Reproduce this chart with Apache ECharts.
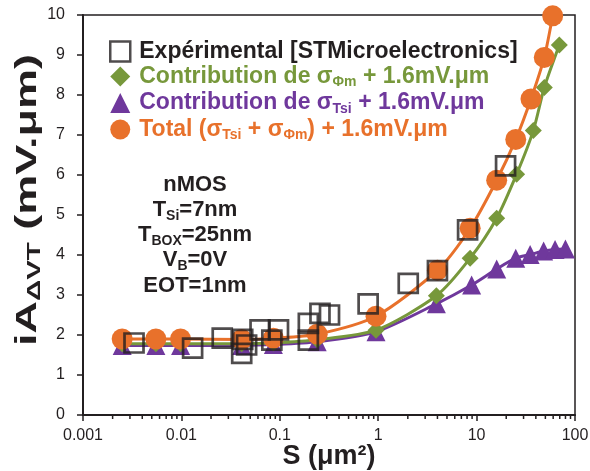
<!DOCTYPE html>
<html><head><meta charset="utf-8">
<script src="https://cdn.jsdelivr.net/npm/echarts@6/dist/echarts.min.js"></script>
<style>html,body{margin:0;padding:0;background:#fff;overflow:hidden}#c{width:590px;height:471px}</style>
</head><body><div id="c"></div>
<script>
// ---- data ----
const expS = [0.0033, 0.013, 0.026, 0.041, 0.042, 0.046, 0.063, 0.083, 0.097, 0.195, 0.195, 0.256, 0.32, 0.79, 2.02, 4.0, 8.1, 19.7];
const expV = [1.80, 1.67, 1.92, 1.54, 1.89, 1.75, 2.13, 1.87, 2.13, 1.87, 2.29, 2.54, 2.50, 2.78, 3.29, 3.61, 4.63, 6.23];

const phiS = [0.0025, 0.0055, 0.0098, 0.041, 0.086, 0.24, 0.95, 3.9, 8.6, 16, 25.5, 37.7, 48.8, 69.3];
const phiV = [1.78, 1.78, 1.78, 1.78, 1.80, 1.88, 2.12, 2.98, 3.92, 4.92, 6.02, 7.11, 8.19, 9.25];

const tsiS = [0.0025, 0.0055, 0.0098, 0.041, 0.086, 0.24, 0.95, 3.9, 8.9, 16, 25, 35, 48, 62.7, 80];
const tsiV = [1.74, 1.74, 1.74, 1.74, 1.76, 1.83, 2.08, 2.78, 3.25, 3.65, 3.92, 4.01, 4.10, 4.14, 4.15];

const totS = [0.0025, 0.0055, 0.0098, 0.041, 0.086, 0.24, 0.95, 4.0, 8.6, 16, 25, 35.7, 48.7, 59.3];
const totV = [1.90, 1.90, 1.90, 1.89, 1.92, 2.02, 2.47, 3.62, 4.67, 5.87, 6.89, 7.90, 8.94, 9.98];

const xTickLabels = ['0.001', '0.01', '0.1', '1', '10', '100'];
const minorTickValues = [];
[0.001, 0.01, 0.1, 1, 10].forEach(d => { for (let k = 2; k <= 9; k++) minorTickValues.push(d * k); });

const legendText = {
  exp: '{b|Expérimental [STMicroelectronics]}',
  phi: '{b|Contribution de σ}{s|Φm}{b| + 1.6mV.μm}',
  tsi: '{b|Contribution de σ}{s|Tsi}{b| + 1.6mV.μm}',
  tot: '{b|Total (σ}{s|Tsi}{b| + σ}{s|Φm}{b|) + 1.6mV.μm}'
};
const annotLines = ['{b|nMOS}', '{b|T}{s|Si}{b|=7nm}', '{b|T}{s|BOX}{b|=25nm}', '{b|V}{s|B}{b|=0V}', '{b|EOT=1nm}'];
const yTitle = '{b|iA}{s|ΔVT}{b| (mV.μm)}';
const xTitle = 'S (μm²)';

// ---- styles ----
const FF = "'Liberation Sans', Arial, sans-serif";
const BLACK = '#231f20', GREEN = '#77983b', PURPLE = '#6f389c', ORANGE = '#e8712b';
const zip = (a, b) => a.map((v, i) => [v, b[i]]);

const legRich = {
  b: { fontSize: 23, fontWeight: 'bold', fontFamily: FF, lineHeight: 26 },
  s: { fontSize: 14, fontWeight: 'bold', fontFamily: FF, lineHeight: 11, verticalAlign: 'bottom' }
};
const annRich = {
  b: { fontSize: 22, fontWeight: 'bold', fontFamily: FF, lineHeight: 26, fill: BLACK },
  s: { fontSize: 14, fontWeight: 'bold', fontFamily: FF, lineHeight: 11, verticalAlign: 'bottom', fill: BLACK }
};
const yRich = {
  b: { fontSize: 29, fontWeight: 'bold', fontFamily: FF, lineHeight: 32, fill: BLACK },
  s: { fontSize: 19, fontWeight: 'bold', fontFamily: FF, lineHeight: 14, verticalAlign: 'bottom', fill: BLACK }
};
const annY = [185, 210, 235, 260, 286];

const chart = echarts.init(document.getElementById('c'), null, { renderer: 'canvas' });
chart.setOption({
  animation: false,
  backgroundColor: '#fff',
  grid: { left: 83, right: 15, top: 15, bottom: 56, show: true, borderColor: BLACK, borderWidth: 1.5, containLabel: false, outerBoundsMode: 'none' },
  legend: {
    orient: 'vertical', left: 104, top: 35, itemWidth: 20, itemHeight: 20, itemGap: 2,
    formatter: n => legendText[n],
    textStyle: { fontFamily: FF, padding: [0, 0, 0, 4], rich: legRich },
    data: [
      { name: 'exp', icon: 'rect', itemStyle: { color: 'rgba(0,0,0,0)', borderColor: BLACK, borderWidth: 2.5 }, textStyle: { color: BLACK, rich: legRich } },
      { name: 'phi', icon: 'diamond', itemStyle: { color: GREEN }, textStyle: { color: GREEN, rich: legRich } },
      { name: 'tsi', icon: 'triangle', itemStyle: { color: PURPLE }, textStyle: { color: PURPLE, rich: legRich } },
      { name: 'tot', icon: 'circle', itemStyle: { color: ORANGE }, textStyle: { color: ORANGE, rich: legRich } }
    ]
  },
  xAxis: {
    type: 'log', logBase: 10, min: 0.001, max: 100,
    name: xTitle, nameLocation: 'middle', nameGap: 28, nameMoveOverlap: false,
    nameTextStyle: { fontFamily: FF, fontSize: 27, fontWeight: 'bold', color: BLACK },
    axisLine: { show: true, lineStyle: { color: BLACK, width: 2 } },
    axisTick: { show: true, inside: false, length: 6, lineStyle: { color: BLACK, width: 1.5 } },
    axisLabel: { fontFamily: FF, fontSize: 16, color: BLACK, margin: 13, formatter: (v, i) => xTickLabels[i] },
    splitLine: { show: false }, minorTick: { show: false }
  },
  yAxis: {
    type: 'value', min: 0, max: 10, interval: 1,
    axisLine: { show: true, lineStyle: { color: BLACK, width: 2 } },
    axisTick: { show: true, inside: false, length: 6, lineStyle: { color: BLACK, width: 1.5 } },
    axisLabel: { fontFamily: FF, fontSize: 16, color: BLACK, margin: 18 },
    splitLine: { show: false }
  },
  graphic: annotLines.map((t, i) => ({
    type: 'text', x: 195, y: annY[i], z: 10,
    style: { text: t, rich: annRich, fill: BLACK, align: 'center', verticalAlign: 'middle', textAlign: 'center', textVerticalAlign: 'middle' }
  })).concat([{
    type: 'text', x: 28, y: 200, rotation: Math.PI / 2, scaleX: 1.55, z: 10,
    style: { text: yTitle, rich: yRich, fill: BLACK, align: 'center', verticalAlign: 'middle', textAlign: 'center', textVerticalAlign: 'middle' }
  }]),
  series: [
    {
      name: 'minor', type: 'custom', silent: true, z: 1, clip: false,
      data: minorTickValues.map(v => [v, 0]),
      renderItem: (params, api) => {
        const p = api.coord([api.value(0), 0]);
        return { type: 'line', shape: { x1: p[0], y1: p[1], x2: p[0], y2: p[1] + 4 }, style: { stroke: BLACK, lineWidth: 1.5 } };
      }
    },
    {
      name: 'tsi', type: 'line', data: zip(tsiS, tsiV), z: 2, smooth: 0.25,
      symbol: 'triangle', symbolSize: 19, showSymbol: true,
      lineStyle: { color: PURPLE, width: 3 }, itemStyle: { color: PURPLE }
    },
    {
      name: 'phi', type: 'line', data: zip(phiS, phiV), z: 3, smooth: 0.25,
      symbol: 'diamond', symbolSize: 17, showSymbol: true,
      lineStyle: { color: GREEN, width: 3 }, itemStyle: { color: GREEN }
    },
    {
      name: 'tot', type: 'line', data: zip(totS, totV), z: 4, smooth: 0.25,
      symbol: 'circle', symbolSize: 21, showSymbol: true,
      lineStyle: { color: ORANGE, width: 3 }, itemStyle: { color: ORANGE }
    },
    {
      name: 'exp', type: 'scatter', data: zip(expS, expV), z: 5,
      symbol: 'rect', symbolSize: 19,
      itemStyle: { color: 'rgba(0,0,0,0)', borderColor: BLACK, borderWidth: 2.7 }
    }
  ]
});
</script>
</body></html>
